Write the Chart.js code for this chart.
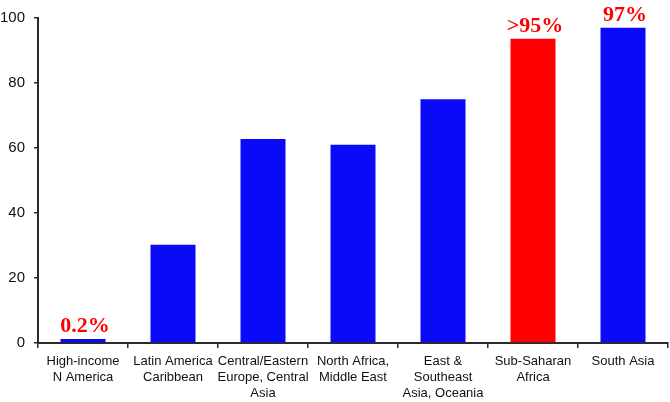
<!DOCTYPE html>
<html>
<head>
<meta charset="utf-8">
<script src="https://cdn.jsdelivr.net/npm/chart.js@4/dist/chart.umd.min.js"></script>
<style>
  html, body { margin: 0; padding: 0; background: #fff; }
  #wrap { width: 670px; height: 402px; position: relative; }
</style>
</head>
<body>
<div id="wrap"><canvas id="c" width="670" height="402"></canvas></div>
<script>
const categories = [
  ["High-income", "N America"],
  ["Latin America", "Caribbean"],
  ["Central/Eastern", "Europe, Central", "Asia"],
  ["North Africa,", "Middle East"],
  ["East &", "Southeast", "Asia, Oceania"],
  ["Sub-Saharan", "Africa"],
  ["South Asia"]
];
const values = [1.2, 30.2, 62.8, 61, 75, 93.6, 97];
const valueLabels = ["0.2%", "", "", "", "", ">95%", "97%"];
const highlight = [false, false, false, false, false, true, false];
const yTicks = [0, 20, 40, 60, 80, 100];

const BLUE = "#0A0AF8";
const RED = "#FF0000";
const AXIS = "#2b2b2b";

const labelPlugin = {
  id: "valueLabels",
  afterDatasetsDraw(chart) {
    const ctx = chart.ctx;
    const meta = chart.getDatasetMeta(0);
    ctx.save();
    ctx.fillStyle = RED;
    ctx.font = "bold 22px 'Liberation Serif', 'Times New Roman', serif";
    ctx.textAlign = "center";
    ctx.textBaseline = "alphabetic";
    meta.data.forEach((bar, i) => {
      const t = valueLabels[i];
      if (!t) return;
      ctx.fillText(t, bar.x + 2, bar.y - 7);
    });
    ctx.restore();
  }
};

new Chart(document.getElementById("c"), {
  type: "bar",
  data: {
    labels: categories,
    datasets: [{
      data: values,
      backgroundColor: highlight.map(h => h ? RED : BLUE),
      borderWidth: 0,
      barPercentage: 0.5,
      categoryPercentage: 1.0
    }]
  },
  options: {
    responsive: false,
    animation: false,
    devicePixelRatio: 1,
    layout: { padding: { top: 11, right: 2, left: 0, bottom: 0 } },
    plugins: {
      legend: { display: false },
      tooltip: { enabled: false }
    },
    scales: {
      x: {
        grid: {
          display: true,
          drawOnChartArea: false,
          offset: true,
          tickLength: 5,
          color: AXIS,
          lineWidth: 1.5
        },
        border: { display: true, color: AXIS, width: 2 },
        ticks: {
          color: "#111",
          font: { family: "'Liberation Sans', Arial, sans-serif", size: 13, lineHeight: 1.25 },
          maxRotation: 0,
          autoSkip: false,
          padding: 5
        },
        afterFit(scale) { scale.height = 59; }
      },
      y: {
        min: 0,
        max: 100,
        afterBuildTicks(scale) { scale.ticks = yTicks.map(v => ({ value: v })); },
        grid: {
          display: true,
          drawOnChartArea: false,
          tickLength: 4,
          color: AXIS,
          lineWidth: 1.5
        },
        border: { display: true, color: AXIS, width: 2 },
        ticks: {
          color: "#111",
          font: { family: "'Liberation Sans', Arial, sans-serif", size: 15 },
          padding: 9
        },
        afterFit(scale) { scale.width = 38; }
      }
    }
  },
  plugins: [labelPlugin]
});
</script>
</body>
</html>
